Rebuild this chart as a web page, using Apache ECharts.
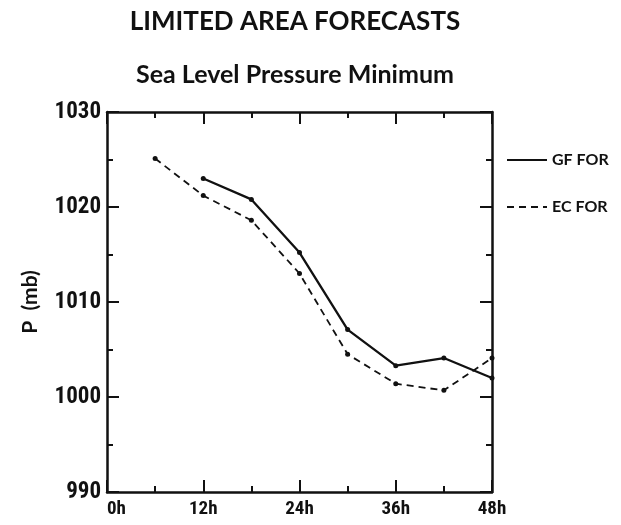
<!DOCTYPE html>
<html>
<head>
<meta charset="utf-8">
<script src="https://cdn.jsdelivr.net/npm/echarts@6/dist/echarts.min.js"></script>
<style>
  html, body { margin: 0; padding: 0; background: #fff; }
  #chart { width: 621px; height: 525px; }
</style>
</head>
<body>
<div id="chart"></div>
<script>
// Forecast hours and minimum sea level pressure (mb)
const gfHours = [12, 18, 24, 30, 36, 42, 48];
const gfPressure = [1023.0, 1020.8, 1015.2, 1007.1, 1003.3, 1004.1, 1002.0];
const ecHours = [6, 12, 18, 24, 30, 36, 42, 48];
const ecPressure = [1025.1, 1021.2, 1018.6, 1013.0, 1004.5, 1001.4, 1000.7, 1004.1];

const title = 'LIMITED AREA FORECASTS';
const subtitle = 'Sea Level Pressure Minimum';
const hourTicks = [0, 12, 24, 36, 48];
const pressureTicks = [990, 1000, 1010, 1020, 1030];

const pair = (xs, ys) => xs.map((x, i) => [x, ys[i]]);

// Pick the narrowest installed bold face for the tick numbers
function pickNarrowFont(candidates) {
  const ctx = document.createElement('canvas').getContext('2d');
  ctx.font = 'bold 40px monospace';
  const base = ctx.measureText('1030h').width;
  let best = candidates[candidates.length - 1], bestW = Infinity;
  for (const f of candidates) {
    ctx.font = 'bold 40px "' + f + '", monospace';
    const w = ctx.measureText('1030h').width;
    if (Math.abs(w - base) > 0.5 && w < bestW) { bestW = w; best = f; }
  }
  return '"' + best + '", sans-serif';
}

const ink = '#111';
const labelFont = pickNarrowFont(['Liberation Sans Narrow', 'DejaVu Sans Condensed', 'Roboto Condensed', 'Liberation Sans']);
const headFont = 'Lato, "Open Sans", sans-serif';

// Boxed frame: every side carries inward-pointing major and minor ticks
function frameAxis() {
  return {
    axisLine: { show: true, onZero: false, lineStyle: { color: ink, width: 2.5 } },
    axisTick: { show: true, inside: true, length: 12, lineStyle: { color: ink, width: 2 } },
    minorTick: { show: true, splitNumber: 2, length: 6, lineStyle: { color: ink, width: 2 } },
    splitLine: { show: false },
    minorSplitLine: { show: false }
  };
}

const chart = echarts.init(document.getElementById('chart'), null, { renderer: 'canvas' });
chart.setOption({
  backgroundColor: '#fff',
  animation: false,
  title: [
    { text: title, left: 290, textAlign: 'center', top: 4, textStyle: { fontFamily: headFont, fontWeight: 'bold', fontSize: 26, color: ink } },
    { text: subtitle, left: 290, textAlign: 'center', top: 57, textStyle: { fontFamily: headFont, fontWeight: 'bold', fontSize: 25, color: ink } }
  ],
  legend: {
    orient: 'vertical',
    left: 506,
    top: 152,
    padding: 0,
    itemWidth: 40,
    itemHeight: 14,
    itemGap: 31,
    itemStyle: { opacity: 0 },
    textStyle: { fontFamily: headFont, fontWeight: 'bold', fontSize: 16, color: ink },
    data: ['GF FOR', 'EC FOR']
  },
  grid: { left: 107, right: 129, top: 112, bottom: 33 },
  xAxis: [
    Object.assign(frameAxis(), {
      type: 'value', min: 0, max: 48, interval: 12, position: 'bottom',
      axisLabel: {
        show: true, color: ink, fontFamily: labelFont, fontWeight: 'bold', fontSize: 19, margin: 8,
        alignMinLabel: 'left',
        formatter: v => hourTicks.includes(v) ? v + 'h' : ''
      }
    }),
    Object.assign(frameAxis(), {
      type: 'value', min: 0, max: 48, interval: 12, position: 'top',
      axisLabel: { show: false }
    })
  ],
  yAxis: [
    Object.assign(frameAxis(), {
      type: 'value', min: 990, max: 1030, interval: 10, position: 'left',
      name: 'P  (mb)', nameLocation: 'middle', nameGap: 66, nameRotate: 90, nameMoveOverlap: false,
      nameTextStyle: { fontFamily: headFont, fontWeight: 'bold', fontSize: 21, color: ink },
      axisLabel: {
        show: true, color: ink, fontFamily: labelFont, fontWeight: 'bold', fontSize: 23, margin: 6,
        formatter: v => pressureTicks.includes(v) ? String(v) : ''
      }
    }),
    Object.assign(frameAxis(), {
      type: 'value', min: 990, max: 1030, interval: 10, position: 'right',
      axisLabel: { show: false }
    })
  ],
  series: [
    {
      name: 'GF FOR', type: 'line', data: pair(gfHours, gfPressure),
      symbol: 'circle', symbolSize: 5, showSymbol: true,
      lineStyle: { color: ink, width: 2.3, type: 'solid' },
      itemStyle: { color: ink }
    },
    {
      name: 'EC FOR', type: 'line', data: pair(ecHours, ecPressure),
      symbol: 'circle', symbolSize: 5, showSymbol: true,
      lineStyle: { color: ink, width: 1.8, type: [7, 5] },
      itemStyle: { color: ink }
    }
  ]
});
</script>
</body>
</html>
